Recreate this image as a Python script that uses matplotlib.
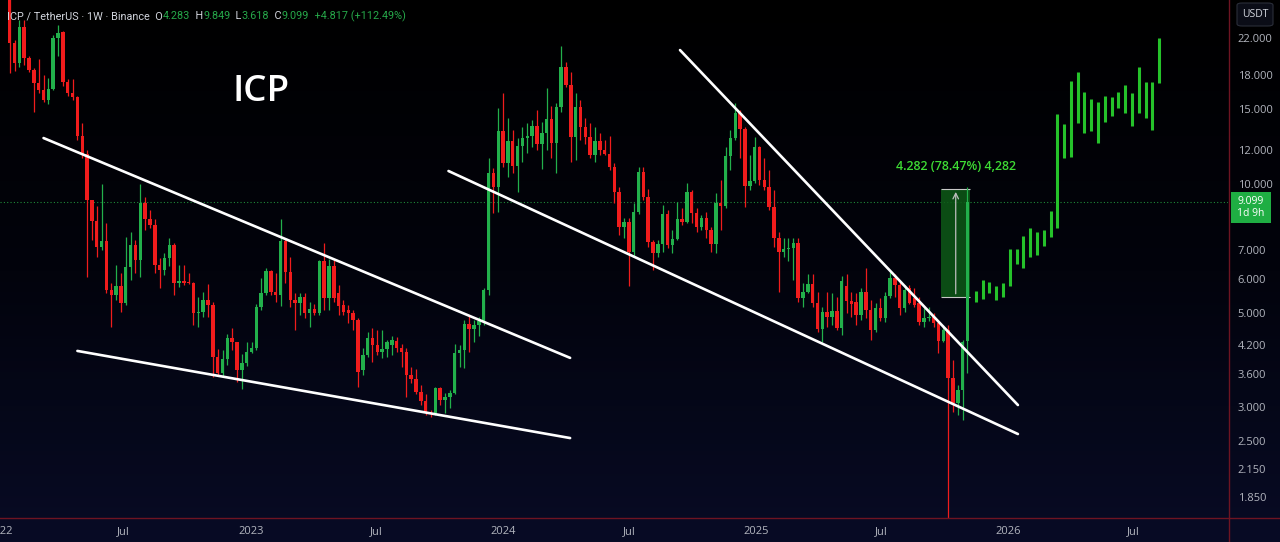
import numpy as np
import pandas as pd
import matplotlib
matplotlib.use("Agg")
import matplotlib.pyplot as plt
import matplotlib.dates as mdates
from matplotlib.patches import Rectangle, FancyBboxPatch
from matplotlib.lines import Line2D
from matplotlib.colors import LinearSegmentedColormap
from matplotlib.ticker import NullLocator

plt.rcParams['font.family'] = ['Open Sans', 'DejaVu Sans']

# ICP / USDT weekly candles (Binance), first bar = week of 2022-01-17
first_week = '2022-01-17'
opens = [27.5, 21.4, 19.2, 23.3, 19.75, 18.5, 17.3, 16.6, 15.75, 16.7,
         22.0, 22.7, 17.4, 16.35, 16.0, 13.0, 11.8, 9.18, 8.2, 7.13,
         7.36, 5.65, 5.5, 5.78, 5.27, 6.4, 7.2, 6.64, 9.04, 8.3,
         8.03, 6.47, 6.3, 6.72, 7.2, 5.87, 5.92, 5.9, 5.87, 4.99,
         5.03, 5.36, 5.2, 3.94, 3.61, 3.9, 4.36, 4.26, 3.67, 3.82,
         4.05, 4.14, 5.16, 5.56, 6.26, 5.59, 5.5, 7.36, 6.23, 5.36,
         5.26, 5.45, 4.99, 5.1, 4.99, 6.6, 5.42, 6.43, 5.56, 5.2,
         5.08, 5.0, 4.81, 3.67, 3.98, 4.36, 4.2, 4.04, 4.12, 4.2,
         4.3, 4.14, 4.05, 3.57, 3.5, 3.26, 3.1, 2.93, 2.91, 3.33,
         3.12, 3.17, 3.24, 4.02, 4.08, 4.71, 4.59, 4.69, 4.76, 5.65,
         10.62, 9.85, 13.32, 11.21, 12.62, 11.06, 12.3, 12.8, 13.0, 13.69,
         12.44, 13.2, 14.21, 12.5, 15.16, 18.81, 17.07, 12.9, 15.16, 13.6,
         12.9, 11.7, 12.6, 12.0, 11.8, 10.97, 9.59, 7.94, 8.16, 6.94,
         8.61, 10.68, 9.33, 7.32, 6.92, 7.24, 8.52, 7.2, 7.43, 8.27,
         8.15, 9.59, 8.57, 7.94, 8.33, 7.81, 7.24, 9.04, 8.9, 11.65,
         12.83, 14.68, 13.48, 9.9, 10.16, 12.2, 10.23, 9.85, 8.84, 7.48,
         6.94, 7.04, 7.1, 7.27, 5.42, 5.59, 5.84, 5.27, 4.58, 5.03,
         4.89, 5.06, 4.61, 5.78, 5.33, 5.3, 4.94, 5.59, 5.08, 4.56,
         5.14, 4.86, 5.46, 6.03, 5.82, 5.14, 5.7, 5.4, 5.27, 4.76,
         4.86, 4.89, 4.74, 4.3, 4.56, 3.52, 3.07, 3.3, 4.283]
highs = [29.0, 21.8, 24.2, 24.2, 20.0, 18.7, 19.7, 18.0, 17.7, 22.4,
         23.6, 22.8, 17.6, 17.6, 16.1, 13.9, 12.0, 9.2, 8.9, 10.0,
         8.1, 5.88, 6.46, 6.2, 7.51, 7.72, 7.4, 10.0, 9.36, 8.7,
         8.3, 6.7, 6.9, 7.5, 7.3, 6.46, 6.46, 6.2, 5.9, 5.45,
         5.6, 5.85, 5.3, 4.12, 4.1, 4.45, 4.6, 4.28, 4.0, 4.26,
         4.26, 5.23, 6.03, 6.36, 6.3, 6.2, 8.3, 7.45, 6.74, 5.56,
         5.56, 5.56, 5.3, 5.23, 6.64, 7.3, 6.68, 6.64, 5.8, 5.36,
         5.2, 5.08, 4.86, 4.14, 4.5, 4.6, 4.56, 4.56, 4.32, 4.41,
         4.38, 4.23, 4.14, 3.73, 3.69, 3.39, 3.22, 2.96, 3.35, 3.35,
         3.24, 3.3, 4.23, 4.2, 4.81, 4.94, 4.81, 4.89, 5.72, 11.5,
         10.91, 15.1, 16.4, 14.29, 13.39, 12.8, 13.6, 13.91, 14.14, 14.92,
         13.98, 16.8, 15.25, 15.5, 21.1, 19.3, 18.3, 16.4, 15.75, 14.3,
         13.9, 13.6, 13.2, 12.7, 13.0, 11.2, 9.85, 8.33, 8.33, 9.04,
         10.97, 10.97, 9.74, 7.4, 7.4, 8.94, 8.7, 7.81, 9.09, 8.8,
         10.06, 9.69, 8.8, 8.48, 8.61, 7.94, 9.55, 10.23, 12.2, 13.39,
         15.5, 14.92, 13.6, 11.7, 12.9, 12.3, 11.5, 10.8, 9.69, 7.72,
         7.5, 7.5, 7.48, 7.48, 5.88, 6.17, 6.17, 5.59, 5.16, 5.59,
         5.56, 5.45, 6.1, 6.17, 5.59, 5.56, 5.72, 6.36, 5.36, 5.28,
         5.42, 5.59, 6.23, 6.17, 5.91, 5.82, 5.82, 5.72, 5.45, 5.14,
         5.16, 4.99, 4.81, 4.68, 4.68, 3.88, 3.39, 4.32, 9.849]
lows = [18.2, 18.4, 18.8, 19.0, 18.3, 14.8, 16.4, 15.6, 15.4, 16.6,
        20.0, 17.0, 16.1, 15.75, 12.7, 11.5, 6.06, 7.4, 6.77, 7.0,
        5.57, 4.63, 5.36, 5.03, 5.2, 5.97, 6.2, 6.05, 7.8, 7.9,
        6.2, 5.7, 6.13, 6.43, 5.5, 5.75, 5.8, 5.85, 4.68, 4.63,
        4.88, 4.88, 3.53, 3.57, 3.53, 3.78, 4.09, 3.45, 3.32, 3.75,
        4.02, 4.09, 5.08, 5.5, 5.5, 5.3, 5.19, 5.87, 5.16, 4.56,
        4.94, 4.86, 4.63, 4.94, 4.95, 5.08, 5.08, 5.3, 4.94, 4.94,
        4.74, 4.56, 3.35, 3.57, 3.94, 3.84, 3.98, 3.92, 3.94, 3.98,
        4.05, 3.73, 3.18, 3.43, 3.22, 3.04, 2.88, 2.85, 2.88, 3.04,
        2.91, 2.99, 3.22, 3.73, 3.71, 4.05, 4.28, 4.4, 4.68, 5.5,
        8.57, 8.61, 10.97, 10.4, 10.64, 9.6, 11.3, 11.83, 12.23, 12.03,
        10.87, 12.03, 11.5, 10.64, 14.8, 16.9, 11.3, 11.4, 12.7, 12.4,
        11.5, 11.3, 11.7, 11.7, 10.8, 9.04, 7.6, 7.5, 5.77, 6.77,
        8.52, 9.18, 7.13, 6.3, 6.77, 6.94, 7.1, 6.9, 7.4, 8.03,
        8.12, 8.12, 7.72, 7.81, 7.48, 6.94, 6.9, 7.8, 8.8, 10.8,
        12.69, 11.5, 8.84, 9.69, 10.06, 9.95, 9.69, 8.7, 7.13, 5.59,
        6.77, 6.6, 5.97, 5.3, 5.16, 5.56, 5.16, 4.51, 4.26, 4.63,
        4.68, 4.56, 4.44, 4.99, 4.89, 4.68, 4.81, 4.86, 4.32, 4.51,
        4.79, 4.76, 5.42, 5.45, 4.94, 5.03, 5.23, 5.16, 4.68, 4.63,
        4.79, 4.63, 4.02, 4.26, 1.2, 2.93, 2.88, 2.8, 3.618]
closes = [21.4, 19.2, 23.3, 19.75, 18.5, 17.3, 16.6, 15.75, 16.7, 22.0,
          22.6, 17.4, 16.35, 16.0, 13.0, 11.8, 9.18, 8.2, 7.13, 7.36,
          5.65, 5.5, 5.78, 5.27, 6.4, 7.2, 6.64, 9.04, 8.3, 8.03,
          6.47, 6.3, 6.72, 7.2, 5.87, 5.92, 5.87, 5.87, 4.99, 5.03,
          5.36, 5.2, 3.94, 3.61, 3.9, 4.36, 4.26, 3.67, 3.82, 4.05,
          4.14, 5.16, 5.56, 6.26, 5.59, 5.5, 7.36, 6.23, 5.36, 5.26,
          5.45, 4.99, 5.1, 4.99, 6.6, 5.42, 6.43, 5.42, 5.19, 5.03,
          4.99, 4.81, 3.63, 3.98, 4.36, 4.2, 4.04, 4.12, 4.26, 4.32,
          4.14, 4.05, 3.57, 3.5, 3.26, 3.1, 2.93, 2.91, 3.33, 3.12,
          3.17, 3.24, 4.02, 4.1, 4.71, 4.59, 4.69, 4.78, 5.65, 10.62,
          9.85, 13.32, 11.21, 12.62, 11.06, 12.3, 12.8, 13.0, 13.69, 12.44,
          13.2, 14.21, 12.5, 15.16, 18.81, 17.07, 12.9, 15.16, 13.6, 12.9,
          11.7, 12.6, 12.0, 11.8, 10.97, 9.59, 7.94, 8.16, 6.94, 8.61,
          10.68, 9.33, 7.32, 6.92, 7.24, 8.52, 7.2, 7.43, 8.27, 8.15,
          9.59, 8.57, 7.94, 8.33, 7.81, 7.24, 9.04, 8.9, 11.65, 12.83,
          14.68, 13.48, 9.9, 10.16, 12.2, 10.23, 9.85, 8.84, 7.48, 6.94,
          7.04, 7.1, 7.27, 5.42, 5.59, 5.84, 5.27, 4.58, 5.03, 4.89,
          5.06, 4.61, 5.94, 5.33, 5.23, 4.94, 5.59, 5.08, 4.56, 5.14,
          4.86, 5.46, 6.03, 5.82, 5.14, 5.65, 5.27, 5.2, 4.76, 4.86,
          4.89, 4.74, 4.3, 4.56, 3.52, 3.07, 3.3, 4.27, 9.099]

# projected bars drawn after the breakout
proj_start = '2025-11-15'
proj_low = [5.31, 5.38, 5.56, 5.36, 5.45, 5.78, 6.50, 6.38, 6.77, 6.83,
            7.18, 7.54, 7.88, 11.54, 11.56, 13.89, 13.2, 13.32, 12.47, 14.01,
            14.44, 15.06, 14.66, 13.69, 14.66, 14.27, 13.39, 17.29]
proj_high = [5.63, 5.97, 5.91, 5.79, 5.88, 7.05, 7.05, 7.57, 7.90, 7.73,
             7.81, 8.65, 14.6, 13.81, 17.48, 18.29, 16.47, 15.81, 15.55, 16.09,
             16.05, 16.47, 17.07, 16.33, 18.78, 17.38, 17.38, 22.0]

# trend lines: (start date, price) -> (end date, price)
trend_lines = [(('2022-03-07', 12.83), ('2024-04-07', 3.92)),
               (('2022-04-25', 4.07), ('2024-04-07', 2.544)),
               (('2023-10-14', 10.74), ('2026-01-15', 2.60)),
               (('2024-09-13', 20.62), ('2026-01-15', 3.04))]

# measure tool
measure_from, measure_to = 5.457, 9.739
measure_dates = ('2025-09-26', '2025-11-07')
measure_label = '4.282 (78.47%) 4,282'
last_price = 9.099

y_ticks = [22, 18, 15, 12, 10, 7, 6, 5, 4.2, 3.6, 3, 2.5, 2.15, 1.85]
x_ticks = ['2022-01-03', '2022-07-01', '2023-01-01', '2023-07-01', '2024-01-01',
           '2024-07-01', '2025-01-01', '2025-07-01', '2026-01-01', '2026-07-01']
x_labels = ['2022', 'Jul', '2023', 'Jul', '2024', 'Jul', '2025', 'Jul', '2026', 'Jul']

W, H = 1280, 542
UP, DOWN = '#22b04b', '#f01c1c'
GREY = '#b2b5be'


def fx(x):
    return x / W


def fy(y):
    return 1 - y / H


fig = plt.figure(figsize=(W / 100, H / 100), dpi=100)

# background gradient
bg = fig.add_axes([0, 0, 1, 1], zorder=0)
cmap = LinearSegmentedColormap.from_list('tv', ['#000000', '#02030c', '#080b25'])
bg.imshow(np.linspace(0, 1, 256).reshape(-1, 1), cmap=cmap, aspect='auto',
          extent=[0, 1, 0, 1])
bg.axis('off')

ax = fig.add_axes([0, 24 / H, 1228 / W, 518 / H], zorder=1)
ax.patch.set_alpha(0)
ax.set_yscale('log')

dates = mdates.date2num(pd.date_range(first_week, periods=len(opens), freq='7D'))
o = np.array(opens)
c = np.array(closes)
colors = np.where(c >= o, UP, DOWN)
bottom = np.minimum(o, c)
height = np.maximum(np.abs(c - o), bottom * 0.007)

ax.vlines(dates, lows, highs, colors=colors, lw=0.9, zorder=2)
ax.bar(dates, height, bottom=bottom, width=5.0, color=colors, lw=0, zorder=3)

# measure box
m0, m1 = mdates.date2num(pd.to_datetime(list(measure_dates)))
mid = (m0 + m1) / 2
ax.add_patch(Rectangle((m0, measure_from), m1 - m0, measure_to - measure_from,
                       facecolor='#0d5a17', alpha=0.85, lw=0, zorder=1.5))
ax.hlines([measure_from, measure_to], m0, m1, colors='#c8c8c8', lw=0.8, zorder=1.6)
ax.annotate('', xy=(mid, measure_to), xytext=(mid, measure_from),
            arrowprops=dict(arrowstyle='->', color='#bdbdbd', lw=0.9), zorder=1.7)
ax.text(mid, 11.03, measure_label, color='#3edc34', fontsize=9,
        fontweight='semibold', ha='center', va='center', zorder=5)

# projection bars
pdates = mdates.date2num(pd.date_range(proj_start, periods=len(proj_low), freq='236h'))
ax.vlines(pdates, proj_low, proj_high, colors='#25c22a', lw=2.2, zorder=3)

for (d0, p0), (d1, p1) in trend_lines:
    ax.plot(mdates.date2num(pd.to_datetime([d0, d1])), [p0, p1],
            color='white', lw=1.9, solid_capstyle='round', zorder=4)

ax.axhline(last_price, color='#1f8a3a', lw=0.8, ls=(0, (1, 2)), zorder=1)

ax.set_xlim(mdates.date2num(pd.Timestamp('2022-01-03')),
            mdates.date2num(pd.Timestamp('2026-11-15')))
ax.set_ylim(1.653, 27.01)

ax.yaxis.tick_right()
ax.set_yticks(y_ticks)
ax.set_yticklabels([f'{v:.3f}' for v in y_ticks])
ax.yaxis.set_minor_locator(NullLocator())
ax.set_xticks(mdates.date2num(pd.to_datetime(x_ticks)))
ax.set_xticklabels(x_labels)
ax.tick_params(axis='y', length=0, pad=7, labelcolor=GREY, labelsize=8)
ax.tick_params(axis='x', length=0, pad=6, labelcolor=GREY, labelsize=8)
for s in ax.spines.values():
    s.set_visible(False)

# frame lines
fig.add_artist(Line2D([0, 1], [fy(518), fy(518)], transform=fig.transFigure,
                      color='#6e1422', lw=1))
fig.add_artist(Line2D([fx(1229), fx(1229)], [0, 1], transform=fig.transFigure,
                      color='#6e1422', lw=1))

# big ticker label
fig.text(fx(232), fy(101), 'ICP', color='white', fontsize=26.5,
         fontweight='semibold', va='baseline')

# header line
renderer = fig.canvas.get_renderer()
parts = [('ICP / TetherUS · 1W · Binance  O', '#d1d4dc'), ('4.283', '#26a84a'),
         ('  H', '#d1d4dc'), ('9.849', '#26a84a'), ('  L', '#d1d4dc'),
         ('3.618', '#26a84a'), ('  C', '#d1d4dc'), ('9.099', '#26a84a'),
         ('  +4.817 (+112.49%)', '#26a84a')]
xpos = 7
for txt, col in parts:
    t = fig.text(fx(xpos), fy(19), txt, color=col, fontsize=7.85, va='baseline',
                 family=['Roboto', 'DejaVu Sans'])
    xpos += t.get_window_extent(renderer).width

# price axis label boxes
fig.add_artist(FancyBboxPatch((fx(1237), fy(26)), fx(36), 23 / H,
                              boxstyle='round,pad=0,rounding_size=0.004',
                              transform=fig.transFigure, facecolor='#0b0d17',
                              edgecolor='#2a2e39', lw=0.8))
fig.text(fx(1255), fy(14.5), 'USDT', color='#d1d4dc', fontsize=7.5,
         ha='center', va='center')
fig.add_artist(Rectangle((fx(1231), fy(223)), fx(40), 31 / H,
                         transform=fig.transFigure, facecolor='#1fae43', lw=0))
fig.text(fx(1251), fy(201), '9.099', color='white', fontsize=7.5,
         ha='center', va='center')
fig.text(fx(1251), fy(214), '1d 9h', color='white', fontsize=7.5,
         ha='center', va='center')

fig.savefig('out.png', dpi=100)
